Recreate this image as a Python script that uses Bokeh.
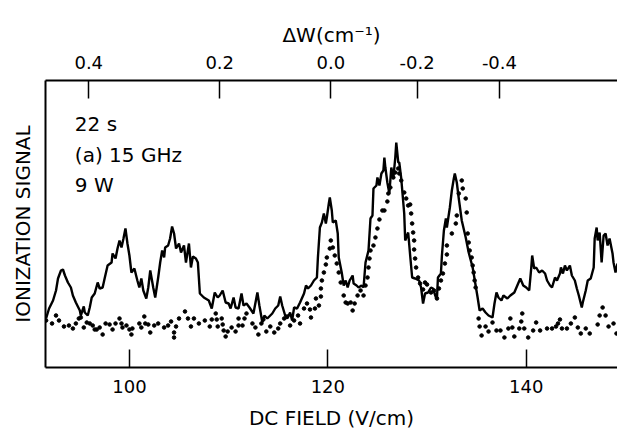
from bokeh.plotting import figure
from bokeh.models import LinearAxis, FixedTicker, Label, Range1d
from bokeh.embed import file_html
from bokeh.resources import INLINE

# DC field (V/cm) and ionization signal (arbitrary units) - solid trace
field_solid = [91.6, 91.9, 92.3, 92.6, 92.8, 93.1, 93.3, 93.5, 93.8, 94.1, 94.3, 94.6, 95.0, 95.1, 95.4, 95.5,
               95.8, 96.0, 96.2, 96.5, 96.8, 97.0, 97.3, 97.5, 97.8, 98.2, 98.3, 98.6, 98.8, 99.0, 99.2, 99.4,
               99.6, 99.8, 100.0, 100.2, 100.5, 100.8, 101.0, 101.2, 101.4, 101.7, 101.9, 102.1, 102.4, 102.6,
               102.9, 103.1, 103.3, 103.5, 103.6, 103.9, 104.1, 104.3, 104.5, 104.7, 105.0, 105.2, 105.5, 105.7,
               106.0, 106.2, 106.4, 106.7, 106.9, 107.1, 107.5, 108.0, 108.3, 108.6, 108.9, 109.1, 109.4, 109.7,
               110.0, 110.2, 110.5, 110.7, 111.0, 111.3, 111.5, 111.8, 112.1, 112.5, 112.9, 113.1, 113.4, 113.6,
               113.9, 114.4, 114.7, 115.0, 115.2, 115.4, 115.7, 115.9, 116.2, 116.4, 116.6, 116.9, 117.2, 117.6,
               117.8, 118.0, 118.3, 118.6, 118.9, 119.0, 119.2, 119.4, 119.6, 119.8, 119.9, 120.1, 120.2, 120.4,
               120.5, 120.8, 121.0, 121.1, 121.4, 121.6, 121.8, 122.0, 122.2, 122.5, 122.6, 122.9, 123.1, 123.4,
               123.6, 123.8, 124.1, 124.3, 124.5, 124.6, 124.9, 125.0, 125.2, 125.4, 125.6, 125.7, 125.8, 126.0,
               126.2, 126.4, 126.6, 126.8, 126.9, 127.1, 127.2, 127.4, 127.7, 127.8, 128.1, 128.3, 128.5, 128.8,
               129.2, 129.4, 129.6, 129.8, 130.1, 130.4, 130.6, 130.9, 131.0, 131.1, 131.4, 131.5, 131.7, 131.9,
               132.0, 132.3, 132.5, 132.7, 132.8, 133.0, 133.2, 133.5, 133.9, 134.2, 134.6, 134.9, 135.1, 135.3,
               135.6, 135.9, 136.2, 136.6, 136.8, 137.0, 137.2, 137.5, 137.7, 138.1, 138.4, 138.8, 139.1, 139.4,
               139.7, 140.0, 140.3, 140.5, 140.6, 140.8, 141.0, 141.3, 141.6, 141.9, 142.1, 142.4, 142.6, 142.9,
               143.1, 143.4, 143.5, 143.7, 143.9, 144.1, 144.4, 144.6, 144.9, 145.1, 145.3, 145.6, 145.7, 146.0,
               146.2, 146.5, 146.8, 146.9, 147.1, 147.2, 147.4, 147.6, 147.8, 148.0, 148.2, 148.4, 148.7, 148.8,
               149.0, 149.2]
signal_solid = [49, 59, 67, 77, 89, 97, 98, 92, 85, 80, 72, 65, 57, 52, 61, 55,
                52, 60, 70, 74, 85, 79, 80, 89, 102, 105, 114, 109, 119, 127, 120, 129,
                139, 124, 112, 95, 99, 87, 80, 89, 77, 69, 80, 97, 80, 70,
                90, 105, 117, 110, 120, 122, 129, 141, 134, 119, 124, 115, 122, 105,
                124, 100, 111, 109, 105, 74, 70, 67, 59, 75, 70, 72, 77, 65,
                64, 59, 70, 60, 59, 74, 62, 64, 60, 54, 75, 62, 45, 52,
                49, 54, 59, 62, 71, 62, 52, 49, 55, 47, 60, 59, 65, 74,
                82, 79, 82, 87, 90, 110, 140, 145, 154, 144, 150, 164, 170, 157,
                145, 147, 134, 110, 95, 82, 87, 80, 87, 92, 84, 82, 80, 82,
                80, 105, 117, 149, 152, 179, 182, 190, 182, 194, 197, 210, 200, 185,
                174, 200, 189, 210, 225, 205, 205, 189, 154, 127, 135, 112, 90, 89,
                87, 80, 64, 74, 75, 80, 79, 70, 69, 90, 94, 112, 137, 149,
                140, 160, 177, 189, 194, 185, 169, 147, 130, 115, 100, 82, 70, 57,
                59, 55, 52, 50, 64, 75, 70, 67, 72, 69, 72, 75, 82, 89,
                82, 80, 77, 99, 112, 99, 100, 95, 97, 94, 87, 82, 80, 90,
                87, 94, 100, 94, 102, 97, 102, 92, 87, 79, 72, 60, 65, 77,
                87, 89, 100, 129, 140, 127, 135, 105, 132, 134, 122, 129, 114, 105,
                95, 104]

# dotted trace
field_dots = [91.6, 92.2, 92.6, 92.9, 93.4, 93.9, 94.3, 94.6, 94.9, 95.1, 95.4, 95.7, 96.0, 96.3, 96.5, 96.7,
              97.0, 97.3, 97.6, 98.0, 98.3, 98.6, 99.0, 99.2, 99.3, 99.7, 100.0, 100.2, 100.3, 101.0, 101.2,
              101.5, 101.6, 101.9, 102.1, 102.5, 102.9, 103.5, 103.9, 104.2, 104.5, 104.5, 104.7, 105.0, 105.6,
              105.9, 106.2, 106.5, 107.0, 107.6, 108.1, 108.3, 108.7, 108.8, 108.9, 109.3, 109.4, 109.5, 109.7,
              109.9, 110.3, 110.7, 111.0, 111.0, 111.4, 111.6, 111.8, 112.4, 112.7, 113.0, 113.3, 113.5, 113.8,
              114.2, 114.6, 115.0, 115.2, 115.6, 115.9, 116.2, 116.6, 117.0, 117.2, 117.6, 117.9, 118.2, 118.3,
              118.7, 118.8, 119.1, 119.3, 119.3, 119.4, 119.6, 119.8, 119.9, 120.2, 120.3, 120.5, 120.7, 120.9,
              121.1, 121.3, 121.6, 121.8, 122.0, 122.3, 122.5, 122.7, 123.0, 123.3, 123.6, 123.8, 124.0, 124.1,
              124.2, 124.3, 124.6, 124.8, 125.0, 125.2, 125.5, 125.7, 126.0, 126.1, 126.3, 126.6, 126.8, 127.1,
              127.2, 127.4, 127.7, 127.9, 128.1, 128.3, 128.4, 128.5, 128.6, 128.7, 128.7, 128.8, 128.9, 129.1,
              129.3, 129.6, 129.8, 130.0, 130.4, 130.7, 131.0, 131.2, 131.4, 131.6, 131.8, 132.0, 132.0, 132.5,
              132.9, 133.0, 133.2, 133.5, 133.6, 133.9, 134.0, 134.1, 134.2, 134.3, 134.5, 134.6, 134.7, 134.8,
              134.9, 135.2, 135.3, 135.5, 135.9, 136.2, 136.6, 137.0, 137.4, 137.8, 138.2, 138.4, 138.6, 138.8,
              139.3, 139.5, 139.6, 139.8, 140.2, 140.7, 141.0, 141.4, 142.1, 142.6, 143.0, 143.2, 143.4, 143.6,
              144.1, 144.5, 144.9, 145.2, 145.5, 146.0, 146.4, 147.2, 147.4, 147.7, 148.0, 148.3, 148.8, 149.1]
signal_dots = [47, 44, 52, 47, 41, 42, 39, 44, 49, 50, 40, 45, 44, 42, 38, 38,
               40, 33, 44, 43, 38, 44, 49, 44, 40, 42, 38, 33, 39, 44, 40,
               51, 44, 43, 35, 42, 44, 40, 42, 46, 35, 30, 41, 49, 56,
               49, 41, 49, 44, 47, 41, 48, 54, 48, 41, 49, 43, 37, 31,
               36, 40, 36, 49, 42, 42, 49, 54, 44, 40, 33, 44, 48, 36,
               41, 35, 39, 44, 49, 51, 42, 47, 52, 44, 59, 64, 58, 50,
               59, 69, 62, 71, 79, 87, 95, 103, 110, 119, 127, 120, 112, 104,
               95, 85, 72, 65, 64, 65, 57, 64, 72, 77, 72, 82, 90, 100,
               109, 117, 122, 130, 139, 148, 157, 157, 166, 174, 180, 190, 195, 199,
               194, 187, 175, 169, 162, 163, 154, 144, 135, 127, 118, 109, 100, 90,
               84, 78, 85, 83, 75, 77, 69, 79, 87, 94, 104, 113, 122, 134,
               144, 152, 174, 187, 179, 169, 155, 134, 125, 117, 110, 102, 95, 87,
               80, 49, 41, 32, 41, 36, 45, 37, 37, 30, 39, 49, 40, 31,
               39, 46, 54, 39, 30, 37, 45, 37, 39, 39, 41, 44, 48, 39,
               39, 44, 50, 40, 34, 39, 34, 43, 52, 60, 52, 41, 44, 34]

# axis ticks
field_ticks = [100, 120, 140]
dw_tick_fields = [95.9, 109.1, 120.3, 129.0, 137.3]
dw_tick_labels = ["0.4", "0.2", "0.0", "-0.2", "-0.4"]

annotations = ["22 s", "(a) 15 GHz", "9 W"]
annotation_x = [94.5, 94.5, 94.5]
annotation_y = [244, 213, 183]

FONT = "DejaVu Sans"

p = figure(width=617, height=439, output_backend="svg", toolbar_location=None,
           x_range=Range1d(91.54, 149.2), y_range=Range1d(0, 287),
           min_border_left=45, min_border_right=0, min_border_top=80, min_border_bottom=72,
           x_axis_location=None, y_axis_location=None)
p.outline_line_color = None
p.xgrid.visible = False
p.ygrid.visible = False
p.background_fill_color = "white"
p.border_fill_color = "white"

bottom = LinearAxis(ticker=FixedTicker(ticks=field_ticks), axis_label="DC FIELD (V/cm)")
top = LinearAxis(ticker=FixedTicker(ticks=dw_tick_fields), axis_label="\u0394W(cm\u207b\u00b9)",
                 major_label_overrides={t: l for t, l in zip(dw_tick_fields, dw_tick_labels)})
left = LinearAxis(ticker=FixedTicker(ticks=[]), axis_label="IONIZATION SIGNAL")

for ax in (bottom, top):
    ax.major_tick_in = 18
    ax.major_tick_out = 0
    ax.minor_tick_line_color = None
    ax.major_tick_line_width = 1.5
    ax.major_tick_line_color = "black"
    ax.major_label_text_font = FONT
    ax.major_label_text_font_size = "18px"
    ax.major_label_text_color = "black"
    ax.major_label_standoff = 12
    ax.axis_label_text_font = FONT
    ax.axis_label_text_font_style = "normal"
    ax.axis_label_text_color = "black"
    ax.axis_line_width = 2
    ax.axis_line_color = "black"

bottom.axis_label_text_font_size = "20px"
bottom.axis_label_standoff = 10
top.axis_label_text_font_size = "20px"
top.axis_label_standoff = 6

left.major_tick_line_color = None
left.minor_tick_line_color = None
left.major_label_text_font_size = "0px"
left.axis_label_text_font = FONT
left.axis_label_text_font_size = "20px"
left.axis_label_text_font_style = "normal"
left.axis_label_text_color = "black"
left.axis_label_standoff = 11
left.axis_line_width = 2
left.axis_line_color = "black"

p.add_layout(bottom, "below")
p.add_layout(top, "above")
p.add_layout(left, "left")

p.line(field_solid, signal_solid, line_color="black", line_width=2.4)
p.scatter(field_dots, signal_dots, size=3.6, color="black")

for t, x, y in zip(annotations, annotation_x, annotation_y):
    p.add_layout(Label(x=x, y=y, text=t, text_font=FONT, text_font_size="20px",
                       text_baseline="middle", text_align="left", text_color="black"))

open("out.html", "w").write(file_html(p, INLINE))
